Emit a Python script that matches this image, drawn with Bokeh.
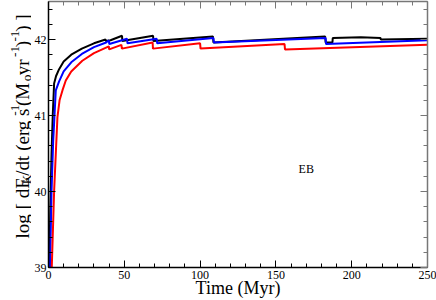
from bokeh.plotting import figure
from bokeh.models import LinearAxis, SingleIntervalTicker, Range1d
from bokeh.layouts import row
from bokeh.embed import file_html
from bokeh.resources import INLINE
from bokeh.core.properties import value
import math

# ---- data ----
black_t = [0.5, 1.2, 2.0, 2.8, 3.7, 5, 7, 10, 15, 22, 30, 37.6, 38.0, 40.9, 48.5, 48.7, 69.0, 69.2, 108.5, 108.8, 182.5, 182.8, 187.3, 187.5, 206, 219, 219.2, 250]
black_v = [38.9, 39.8, 40.5, 41.0, 41.42, 41.52, 41.61, 41.71, 41.8, 41.88, 41.95, 42.0, 41.98, 41.99, 42.05, 41.98, 42.05, 41.98, 42.04, 41.96, 42.04, 41.96, 41.96, 42.02, 42.03, 42.02, 42.0, 42.01]

blue_t = [0.9, 2.0, 3.1, 4.8, 7, 10, 15, 22, 30, 38, 39.8, 40.1, 51.8, 52.1, 71.4, 71.7, 108.8, 109.1, 182.8, 183.1, 250]
blue_v = [38.9, 40.0, 40.67, 41.33, 41.45, 41.58, 41.7, 41.81, 41.9, 41.96, 41.99, 41.94, 42.01, 41.95, 42.01, 41.95, 42.02, 41.96, 42.02, 41.94, 41.99]

red_t = [2.0, 3.7, 5.2, 5.9, 7.3, 9.2, 11.4, 15, 22.3, 30, 39.8, 40.0, 48.1, 48.4, 68.7, 68.9, 100.0, 100.3, 155.7, 156.0, 250]
red_v = [38.9, 40.0, 40.67, 40.98, 41.2, 41.33, 41.46, 41.58, 41.72, 41.82, 41.91, 41.87, 41.93, 41.88, 41.96, 41.88, 41.95, 41.88, 41.94, 41.87, 41.93]

x_start, x_end = 0, 250
y_start, y_end = 39, 42.5
note_t, note_v, note_text = [170], [40.29], ["EB"]
x_title = "Time (Myr)"
# y title pieces: (text, kind) kind: "n" normal, "sub", "sup"
y_title = [("log [ dE", "n"), ("K", "sub"), ("/dt (erg s", "n"), ("-1", "sup"),
           (" (M", "n"), ("o", "sub"), (" yr", "n"), ("-1", "sup"), (")", "n"),
           ("-1", "sup"), (") ]", "n")]

FONT = "Liberation Serif"
H = 300
TW = 31            # width of the strip holding the y title
W = 436 - TW       # main figure width

p = figure(width=W, height=H, output_backend="svg", toolbar_location=None,
           x_range=Range1d(x_start, x_end), y_range=Range1d(y_start, y_end),
           min_border_left=15, min_border_right=9, min_border_top=1, min_border_bottom=2,
           background_fill_color="white", border_fill_color="white")
p.outline_line_color = None
p.xgrid.visible = False
p.ygrid.visible = False

def style_axis(ax, color="black"):
    ax.axis_line_color = color
    ax.axis_line_width = 1.5
    ax.major_tick_line_color = color
    ax.minor_tick_line_color = color
    ax.major_tick_in = 7
    ax.major_tick_out = 0
    ax.minor_tick_in = 4
    ax.minor_tick_out = 0
    ax.major_label_text_font = FONT
    ax.major_label_text_font_size = "12px"
    ax.major_label_text_color = "black"

xa = p.xaxis[0]
xa.ticker = SingleIntervalTicker(interval=50, num_minor_ticks=5)
style_axis(xa)
xa.major_label_standoff = 3
xa.axis_label = x_title
xa.axis_label_text_font = FONT
xa.axis_label_text_font_style = "normal"
xa.axis_label_text_font_size = "18px"
xa.axis_label_text_color = "black"
xa.axis_label_standoff = -4

ya = p.yaxis[0]
ya.ticker = SingleIntervalTicker(interval=1, num_minor_ticks=5)
style_axis(ya)
ya.major_label_standoff = 2

top = LinearAxis(ticker=SingleIntervalTicker(interval=50, num_minor_ticks=5))
style_axis(top, "#777777")
top.major_label_text_color = None
top.major_label_text_font_size = "1px"
top.major_label_standoff = 0
p.add_layout(top, "above")

right = LinearAxis(ticker=SingleIntervalTicker(interval=1, num_minor_ticks=5))
style_axis(right, "#777777")
right.major_label_text_color = None
right.major_label_text_font_size = "1px"
right.major_label_standoff = 0
p.add_layout(right, "right")

p.line(black_t, black_v, line_color="black", line_width=2)
p.line(blue_t, blue_v, line_color="blue", line_width=2)
p.line(red_t, red_v, line_color="red", line_width=2)

p.text(x=note_t, y=note_v, text=note_text, text_font=value(FONT), text_font_size="12px",
       text_align="center", text_baseline="middle", text_color="black")

# ---- y title strip: a bare figure in pixel coordinates ----
t = figure(width=TW, height=H, output_backend="svg", toolbar_location=None,
           x_range=Range1d(0, TW), y_range=Range1d(0, H),
           x_axis_type=None, y_axis_type=None,
           min_border_left=0, min_border_right=0, min_border_top=0, min_border_bottom=0,
           background_fill_color="white", border_fill_color="white")
t.outline_line_color = None
t.xgrid.visible = False
t.ygrid.visible = False

adv = {"l": 278, "o": 500, "g": 500, " ": 250, "[": 333, "d": 500, "E": 611, "K": 722,
       "/": 278, "t": 278, "(": 333, "e": 444, "r": 333, "s": 389, "-": 333, "1": 500,
       "M": 889, "y": 500, ")": 333, "]": 333}
S = 19.0
s = 13.3
sizes = {"n": S, "sub": s, "sup": s}
shift = {"n": 0.0, "sub": 0.2 * S, "sup": -0.38 * S}
total = sum(sum(adv[c] for c in txt) / 1000.0 * sizes[k] for txt, k in y_title)
center_from_top = 142
pos = (H - center_from_top) - total / 2
base_x = 22
for txt, k in y_title:
    w = sum(adv[c] for c in txt) / 1000.0 * sizes[k]
    t.text(x=[base_x + shift[k]], y=[pos], text=[txt], angle=math.pi / 2,
           text_font=value(FONT), text_font_size="%.1fpx" % sizes[k],
           text_align="left", text_baseline="alphabetic", text_color="black")
    pos += w

layout = row(t, p, spacing=0)
open("out.html", "w").write(file_html(layout, INLINE))
